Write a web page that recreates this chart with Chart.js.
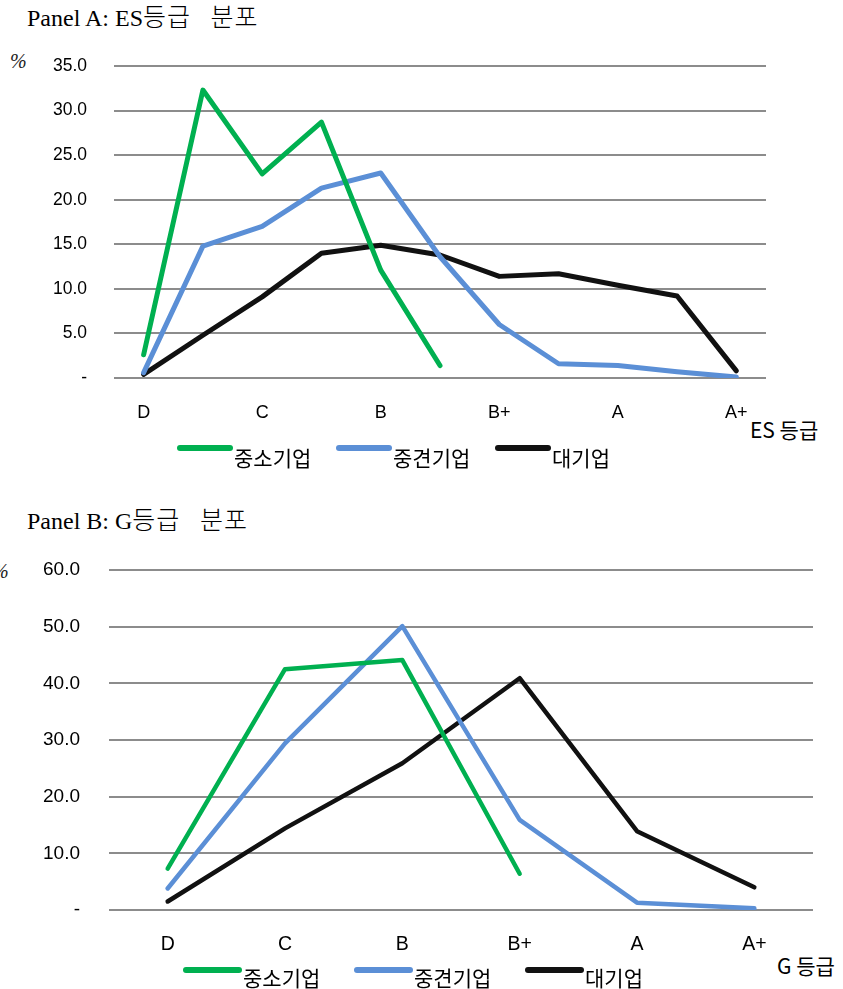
<!DOCTYPE html>
<html>
<head>
<meta charset="utf-8">
<script src="https://cdn.jsdelivr.net/npm/chart.js@4.4.1/dist/chart.umd.min.js"></script>
<style>
  body { margin: 0; background: #fff; width: 843px; height: 989px; position: relative; overflow: hidden; }
  .panel { position: absolute; left: 0; width: 843px; }
  .txt { position: absolute; white-space: nowrap; line-height: 1; color: #000; }
  .title { font-family: "Liberation Serif", "DejaVu Serif", serif; font-size: 24px; }
  .title .ko { font-family: "Noto Sans CJK KR", sans-serif; font-size: 25px; font-weight: 300; letter-spacing: 1px; }
  .pct { font-family: "Liberation Serif", serif; font-style: italic; font-size: 20px; color: #222; }
  .axis-name { font-family: "Noto Sans CJK KR", "Noto Sans", sans-serif; font-size: 21px; }
</style>
</head>
<body>
<div class="txt title" style="left:27px; top:3px;">Panel A: ES<span class="ko">등급&nbsp;&nbsp;&nbsp;분포</span></div>
<div class="txt pct" style="left:10px; top:51px;">%</div>
<div class="txt axis-name" style="left:750px; top:419px;">ES 등급</div>
<div class="panel" style="top:0; height:490px;"><canvas id="chartA" width="843" height="490"></canvas></div>

<div class="txt title" style="left:27px; top:506px;">Panel B: G<span class="ko">등급&nbsp;&nbsp;&nbsp;분포</span></div>
<div class="txt pct" style="left:-8px; top:561px;">%</div>
<div class="txt axis-name" style="left:777px; top:955px;">G 등급</div>
<div class="panel" style="top:490px; height:499px;"><canvas id="chartB" width="843" height="499"></canvas></div>

<script>
// series names
const seriesNames = ["중소기업", "중견기업", "대기업"];

// Panel A: ES grade distribution (%), 11 steps, every other one labelled
const gradesA = ["D", "", "C", "", "B", "", "B+", "", "A", "", "A+"];
const smallA = [2.6, 32.3, 22.9, 28.7, 12.1, 1.4, null, null, null, null, null];
const midA = [0.6, 14.8, 17.0, 21.3, 23.0, 13.6, 6.0, 1.6, 1.4, 0.7, 0.1];
const largeA = [0.4, 4.8, 9.1, 14.0, 14.9, 13.8, 11.4, 11.7, 10.4, 9.2, 0.8];

// Panel B: G grade distribution (%)
const gradesB = ["D", "C", "B", "B+", "A", "A+"];
const smallB = [7.3, 42.5, 44.1, 6.4, null, null];
const midB = [3.8, 29.4, 50.1, 15.9, 1.3, 0.3];
const largeB = [1.5, 14.4, 25.9, 40.9, 13.9, 4.0];

const colors = ["#00b050", "#5b8fd6", "#111111"];

// legend with the label sitting a bit below the line, drawn on the canvas
const lowLegend = {
  id: "lowLegend",
  afterDraw(chart, args, opts) {
    const ctx = chart.ctx;
    ctx.save();
    chart.data.datasets.forEach((ds, i) => {
      const x = opts.x[i];
      ctx.strokeStyle = ds.borderColor;
      ctx.lineWidth = 6;
      ctx.lineCap = "round";
      ctx.beginPath();
      ctx.moveTo(x, opts.lineY);
      ctx.lineTo(x + opts.len, opts.lineY);
      ctx.stroke();
      ctx.fillStyle = "#000";
      ctx.font = '21px "Noto Sans CJK KR", sans-serif';
      ctx.textBaseline = "middle";
      ctx.textAlign = "left";
      ctx.fillText(ds.label, x + opts.len + 4, opts.textY);
    });
    ctx.restore();
  }
};

function makeChart(id, labels, series, cfg) {
  const datasets = series.map((data, i) => ({
    label: seriesNames[i],
    data: data,
    borderColor: colors[i],
    backgroundColor: colors[i],
    borderWidth: cfg.lineWidth,
    pointRadius: 0,
    borderCapStyle: "round",
    borderJoinStyle: "round",
    tension: 0,
    spanGaps: false,
  }));

  return new Chart(document.getElementById(id), {
    type: "line",
    data: { labels: labels, datasets: datasets },
    plugins: [lowLegend],
    options: {
      responsive: false,
      animation: false,
      layout: { padding: { left: 0, right: cfg.right, top: cfg.top, bottom: 0 } },
      plugins: {
        legend: { display: false },
        tooltip: { enabled: false },
        lowLegend: cfg.legend,
      },
      scales: {
        x: {
          offset: true,
          grid: { display: false, drawTicks: false },
          border: { display: false },
          afterFit: (scale) => { scale.height = cfg.xHeight; },
          ticks: {
            autoSkip: false,
            maxRotation: 0,
            padding: cfg.xPad,
            color: "#000",
            font: { family: '"Liberation Sans", Arial, sans-serif', size: cfg.xFont },
          },
        },
        y: {
          min: 0,
          max: cfg.max,
          afterFit: (scale) => { scale.width = cfg.yWidth; },
          grid: { color: "#8c8c8c", lineWidth: 2, drawTicks: false },
          border: { display: false },
          ticks: {
            stepSize: cfg.step,
            padding: cfg.tickPad,
            color: "#000",
            font: { family: '"Liberation Sans", Arial, sans-serif', size: cfg.yFont },
            callback: (v) => (v === 0 ? "-" : v.toFixed(1)),
          },
        },
      },
    },
  });
}

makeChart("chartA", gradesA, [smallA, midA, largeA], {
  lineWidth: 5, right: 77, top: 66, xHeight: 112, yWidth: 114, max: 35, step: 5, tickPad: 27,
  xFont: 18, yFont: 17.5, xPad: 24,
  legend: { x: [180, 339, 498], len: 50, lineY: 448, textY: 458 },
});

makeChart("chartB", gradesB, [smallB, midB, largeB], {
  lineWidth: 4.5, right: 30, top: 80, xHeight: 79, yWidth: 109, max: 60, step: 10, tickPad: 29,
  xFont: 19.5, yFont: 19, xPad: 23,
  legend: { x: [186, 357, 528], len: 53, lineY: 480, textY: 488 },
});
</script>
</body>
</html>
